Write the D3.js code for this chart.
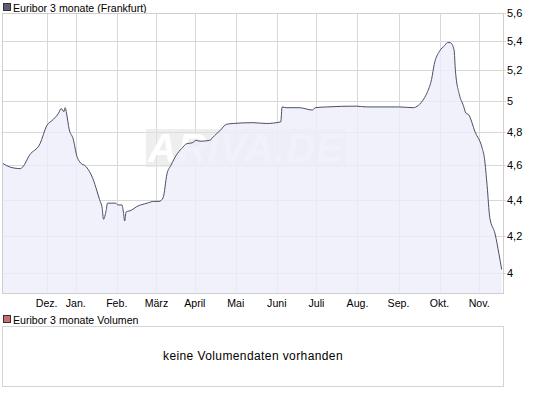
<!DOCTYPE html>
<html><head><meta charset="utf-8">
<script src="https://cdn.jsdelivr.net/npm/d3@7"></script>
<style>
html,body{margin:0;padding:0;background:#fff;}
svg{display:block;font-family:"Liberation Sans",Arial,sans-serif;}
</style></head>
<body><svg id="c" width="545" height="397"></svg>
<script>
const title = "Euribor 3 monate (Frankfurt)";
const volTitle = "Euribor 3 monate Volumen";
const noVolText = "keine Volumendaten vorhanden";
const dates = ["2007-11-07","2007-11-12","2007-11-20","2007-11-22","2007-11-27","2007-12-05","2007-12-10","2007-12-15","2007-12-19","2007-12-21","2007-12-23","2007-12-24","2007-12-25","2007-12-27","2007-12-30",
"2008-01-02","2008-01-04","2008-01-09","2008-01-14","2008-01-17","2008-01-19","2008-01-21","2008-01-22","2008-01-24","2008-01-25","2008-01-27","2008-01-31",
"2008-02-02","2008-02-05","2008-02-06","2008-02-07","2008-02-08","2008-02-12","2008-02-16","2008-02-24","2008-02-29",
"2008-03-04","2008-03-07","2008-03-10","2008-03-13","2008-03-17","2008-03-21","2008-03-25","2008-03-29",
"2008-04-01","2008-04-04","2008-04-11","2008-04-15","2008-04-19","2008-04-24","2008-04-29",
"2008-05-14","2008-05-24","2008-06-04","2008-06-05","2008-06-08","2008-06-18","2008-06-28","2008-06-30",
"2008-07-09","2008-07-31","2008-08-08","2008-09-02","2008-09-12","2008-09-16","2008-09-20","2008-09-23","2008-09-26","2008-09-28",
"2008-10-02","2008-10-06","2008-10-08","2008-10-10","2008-10-13","2008-10-14","2008-10-17","2008-10-20","2008-10-22","2008-10-24","2008-10-29",
"2008-11-03","2008-11-05","2008-11-07","2008-11-09","2008-11-13","2008-11-16","2008-11-18"];
const values = [4.61,4.59,4.58,4.59,4.66,4.73,4.84,4.88,4.92,4.95,4.93,4.955,4.92,4.82,4.76,
4.65,4.62,4.59,4.52,4.45,4.40,4.35,4.29,4.34,4.38,4.38,4.38,
4.37,4.37,4.33,4.28,4.33,4.34,4.36,4.38,4.39,
4.39,4.41,4.55,4.60,4.66,4.70,4.73,4.735,
4.75,4.745,4.75,4.78,4.81,4.85,4.855,
4.86,4.855,4.865,4.96,4.955,4.955,4.94,4.955,
4.96,4.965,4.96,4.96,4.955,4.97,5.01,5.06,5.14,5.24,
5.33,5.37,5.39,5.39,5.34,5.20,5.04,4.97,4.92,4.91,4.80,
4.71,4.64,4.48,4.30,4.21,4.10,4.02];
const xDomain = ["2007-11-07","2008-11-19"];
const yDomain = [3.9, 5.6];
const yTicks = [4,4.2,4.4,4.6,4.8,5,5.2,5.4,5.6];
const yTickLabels = ["4","4,2","4,4","4,6","4,8","5","5,2","5,4","5,6"];
const monthTickDates = ["2007-12-10","2008-01-01","2008-02-01","2008-03-02","2008-03-31","2008-05-01","2008-06-01","2008-07-01","2008-08-01","2008-09-01","2008-10-02","2008-11-01"];
const monthLabels = ["Dez.","Jan.","Feb.","März","April","Mai","Juni","Juli","Aug.","Sep.","Okt.","Nov."];

const parse = d3.timeParse("%Y-%m-%d");
const data = dates.map((d,i)=>({date:parse(d), v:values[i]}));

const L=3, R=503, T=13, B=293;
const svg = d3.select("#c");
const x = d3.scaleTime().domain(xDomain.map(parse)).range([L,R]);
const y = d3.scaleLog().domain(yDomain).range([B,T]);

// legend 1
svg.append("rect").attr("x",3.5).attr("y",3.5).attr("width",7).attr("height",7)
  .attr("fill","#5a5e7c").attr("stroke","#333").attr("stroke-width",1);
svg.append("text").attr("x",13).attr("y",11.5).attr("font-size",10.6).attr("fill","#000").text(title);

// plot background
svg.append("rect").attr("x",L).attr("y",T).attr("width",R-L).attr("height",B-T).attr("fill","#fff");

// grid
const grid = svg.append("g");
grid.selectAll("line.h").data(yTicks).join("line")
  .attr("x1",L).attr("x2",R+3).attr("y1",d=>Math.round(y(d))+0.5).attr("y2",d=>Math.round(y(d))+0.5)
  .attr("stroke","#d8d8d8");
grid.selectAll("line.v").data(monthTickDates).join("line")
  .attr("x1",d=>Math.round(x(parse(d)))+0.5).attr("x2",d=>Math.round(x(parse(d)))+0.5)
  .attr("y1",T).attr("y2",B).attr("stroke","#d8d8d8");

// watermark
const wm = svg.append("g");
const wx = x(parse("2008-02-23")), wy = y(4.82);
wm.append("rect").attr("x",wx).attr("y",wy).attr("width",200).attr("height",38)
  .attr("fill","#e2e2e2").attr("opacity",0.6);
wm.append("text").attr("x",wx+100).attr("y",wy+33).attr("text-anchor","middle")
  .attr("font-size",40).attr("font-style","italic").attr("font-weight","bold").attr("fill","#ffffff")
  .attr("letter-spacing",1).text("ARIVA.DE");

// area + line
const curve = d3.curveMonotoneX;
const area = d3.area().curve(curve).x(d=>x(d.date)).y0(B).y1(d=>y(d.v));
svg.append("path").datum(data).attr("d",area).attr("fill","#ecedf9").attr("opacity",0.8);
const line = d3.line().curve(curve).x(d=>x(d.date)).y(d=>y(d.v));
svg.append("path").datum(data).attr("d",line).attr("fill","none").attr("stroke","#4a4e66").attr("stroke-width",1);

// frame
svg.append("rect").attr("x",L-0.5).attr("y",T+0.5).attr("width",R-L+1).attr("height",B-T).attr("fill","none").attr("stroke","#cfcfcf");

// y labels
svg.selectAll("text.yl").data(yTicks).join("text").attr("class","yl")
  .attr("x",507).attr("y",d=>y(d)+4).attr("font-size",11).attr("fill","#000")
  .text((d,i)=>yTickLabels[i]);

// x labels
svg.selectAll("text.xl").data(monthTickDates).join("text").attr("class","xl")
  .attr("x",d=>x(parse(d))).attr("y",307).attr("text-anchor","middle").attr("font-size",10.6).attr("fill","#000")
  .text((d,i)=>monthLabels[i]);

// legend 2
svg.append("rect").attr("x",3.5).attr("y",315.5).attr("width",7).attr("height",7)
  .attr("fill","#c87070").attr("stroke","#333").attr("stroke-width",1);
svg.append("text").attr("x",13).attr("y",323.5).attr("font-size",10.6).attr("fill","#000").text(volTitle);

// volume panel
svg.append("rect").attr("x",L-0.5).attr("y",326.5).attr("width",R-L+1).attr("height",60).attr("fill","#fff").attr("stroke","#d4d4d4");
svg.append("text").attr("x",(L+R)/2).attr("y",360).attr("text-anchor","middle").attr("font-size",12).attr("fill","#000")
  .attr("letter-spacing",0.4).text(noVolText);
</script></body></html>
